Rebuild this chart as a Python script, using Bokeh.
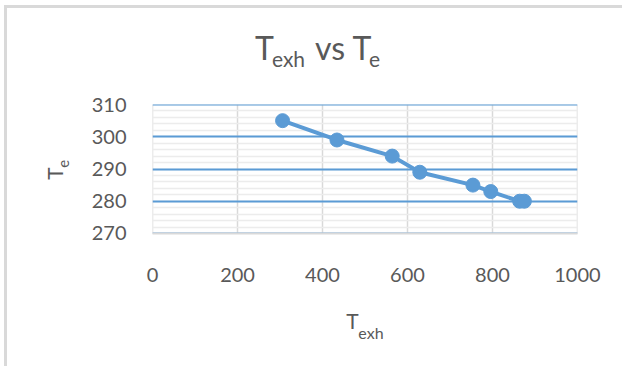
from bokeh.plotting import figure
from bokeh.models import Range1d, LinearAxis, FixedTicker, SingleIntervalTicker, ColumnDataSource
from bokeh.embed import file_html
from bokeh.resources import INLINE

# Data
t_exh = [306, 434, 564, 629, 754, 796, 864, 875]
t_e = [305, 299, 294, 289, 285, 283, 280, 280]
x_ticks = [0, 200, 400, 600, 800, 1000]
y_ticks = [270, 280, 290, 300, 310]

BLUE = "#5b9bd5"
GRAY_TXT = "#595959"
FONT = "Lato"

src = ColumnDataSource(data=dict(x=t_exh, y=t_e))

p = figure(width=618, height=361, output_backend="svg", toolbar_location=None,
           x_range=Range1d(-0.1, 1000.1), y_range=Range1d(269.99, 310.01),
           min_border_left=145, min_border_right=48, min_border_top=96,
           min_border_bottom=136)
p.styles = {"margin-left": "4px", "margin-top": "5px",
            "border-left": "3px solid #d9d9d9", "border-top": "3px solid #d9d9d9"}
p.outline_line_color = None
p.background_fill_color = "white"
p.border_fill_color = "white"

def style_axis(ax, size):
    ax.major_tick_out = 0
    ax.major_tick_in = 0
    ax.minor_tick_out = 0
    ax.minor_tick_in = 0
    ax.major_label_text_font = FONT
    ax.major_label_text_font_size = size
    ax.major_label_text_color = GRAY_TXT

# main axes
p.xaxis.ticker = x_ticks
p.yaxis.ticker = SingleIntervalTicker(interval=10, num_minor_ticks=5)
style_axis(p.xaxis[0], "20px")
style_axis(p.yaxis[0], "20px")
p.xaxis.axis_line_color = "#d9d9d9"
p.xaxis.axis_line_width = 2
p.xaxis.major_label_standoff = 34
p.yaxis.axis_line_color = None
p.yaxis.major_label_standoff = 26

# grids
p.xgrid.ticker = x_ticks
p.xgrid.grid_line_color = "#d9d9d9"
p.xgrid.grid_line_width = 1.5
p.ygrid.grid_line_color = BLUE
p.ygrid.grid_line_width = 2
p.ygrid.minor_grid_line_color = "#ececec"
p.ygrid.minor_grid_line_width = 1.5

# series
p.line("x", "y", source=src, line_color=BLUE, line_width=4)
p.scatter("x", "y", source=src, size=14, fill_color=BLUE, line_color=BLUE)

# text rows built from axes (labels placed through the scales)
def text_axis(place, pieces, size, standoff, orientation="horizontal"):
    ticks = [pos for pos, _ in pieces]
    ax = LinearAxis(ticker=FixedTicker(ticks=ticks, minor_ticks=[]),
                    major_label_overrides={pos: txt for pos, txt in pieces})
    style_axis(ax, size)
    ax.axis_line_color = None
    ax.major_label_standoff = standoff
    ax.major_label_orientation = orientation
    p.add_layout(ax, place)

# title "T_exh vs T_e": subscript row first (closest to plot), then main row
text_axis("above", [(320.0, "exh"), (522.4, "e")], "21px", 34)
text_axis("above", [(263.5, "T"), (417.6, "vs"), (492.9, "T")], "32px", -24)

# x axis title "T_exh"
text_axis("below", [(470.6, "T")], "21px", 23)
text_axis("below", [(514.0, "exh")], "16px", -13)

# y axis title "T_e" (rotated)
text_axis("left", [(291.6, "e")], "15px", 19, "vertical")
text_axis("left", [(288.6, "T")], "21px", -12, "vertical")

open("out.html", "w").write(file_html(p, INLINE))
